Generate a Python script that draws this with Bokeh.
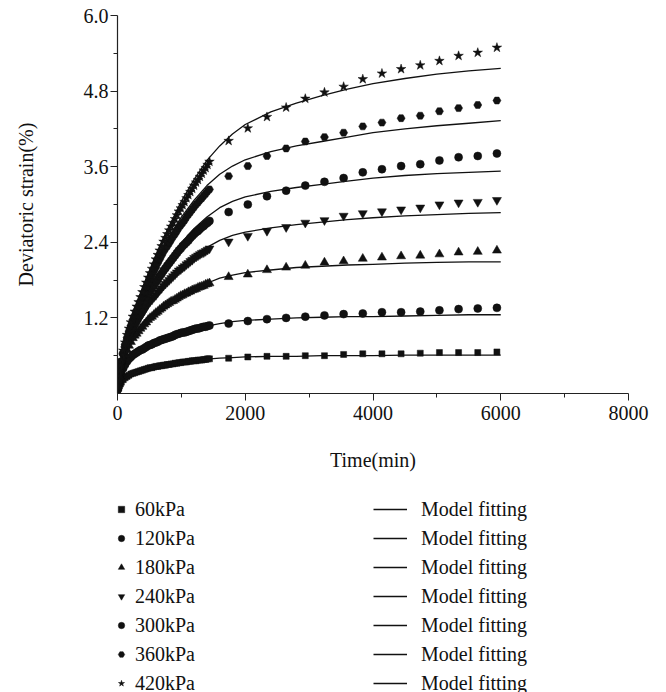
from bokeh.plotting import figure
from bokeh.layouts import column
from bokeh.models import Range1d, FixedTicker, PrintfTickFormatter, Legend, LegendItem
from bokeh.embed import file_html
from bokeh.resources import INLINE

FONT = "Liberation Serif"
INK = "#111111"

# Time axis of the densely logged first day (min)
DENSE_T = [0, 10, 20, 30, 45, 60, 90, 120, 150, 180, 210, 240,
           270, 300, 330, 360, 390, 420, 450, 480, 510, 540, 570, 600,
           630, 660, 690, 720, 750, 780, 810, 840, 870, 900, 930, 960,
           990, 1020, 1050, 1080, 1110, 1140, 1170, 1200, 1230, 1260, 1290, 1320,
           1350, 1380, 1410, 1440]
# Sparse readings after the first day (min)
SPARSE_T = [1740, 2040, 2340, 2640, 2940, 3240, 3540, 3840, 4140, 4440,
            4740, 5040, 5340, 5640, 5940]
# Time points of the fitted model curves (min)
FIT_T = [0, 25, 50, 100, 200, 300, 400, 500, 600, 700, 800, 1000, 1200, 1400,
         1600, 1800, 2000, 2400, 2800, 3200, 3600, 4000, 4500, 5000, 5500, 6000]

LABELS = ["60kPa", "120kPa", "180kPa", "240kPa", "300kPa", "360kPa", "420kPa"]
MARKERS = ["square", "circle", "triangle", "inverted_triangle", "circle", "hex", "star"]
SIZES = [6, 8, 9, 9, 8, 8, 10]

# Measured deviatoric strain (%), first day
D60 = [0.03, 0.07, 0.10, 0.12, 0.15, 0.18, 0.22, 0.25, 0.27, 0.29, 0.31, 0.32,
       0.33, 0.34, 0.35, 0.36, 0.37, 0.38, 0.39, 0.40, 0.41, 0.41, 0.42, 0.43,
       0.43, 0.44, 0.44, 0.45, 0.45, 0.46, 0.46, 0.47, 0.47, 0.48, 0.48, 0.49,
       0.49, 0.50, 0.50, 0.50, 0.51, 0.51, 0.52, 0.52, 0.52, 0.53, 0.53, 0.53,
       0.54, 0.54, 0.55, 0.55]
D120 = [0.06, 0.12, 0.17, 0.22, 0.27, 0.32, 0.40, 0.46, 0.51, 0.55, 0.58, 0.61,
        0.63, 0.65, 0.67, 0.69, 0.70, 0.72, 0.74, 0.76, 0.77, 0.78, 0.80, 0.81,
        0.82, 0.84, 0.85, 0.86, 0.87, 0.88, 0.89, 0.90, 0.91, 0.93, 0.94, 0.95,
        0.96, 0.97, 0.97, 0.98, 0.99, 1.00, 1.01, 1.02, 1.03, 1.03, 1.04, 1.05,
        1.06, 1.06, 1.07, 1.08]
D180 = [0.08, 0.15, 0.22, 0.28, 0.35, 0.41, 0.52, 0.61, 0.69, 0.76, 0.82, 0.88,
        0.92, 0.95, 0.99, 1.03, 1.06, 1.10, 1.13, 1.17, 1.20, 1.22, 1.25, 1.28,
        1.30, 1.33, 1.35, 1.38, 1.40, 1.42, 1.44, 1.46, 1.47, 1.49, 1.51, 1.53,
        1.55, 1.56, 1.58, 1.59, 1.61, 1.62, 1.64, 1.65, 1.66, 1.68, 1.69, 1.70,
        1.71, 1.73, 1.74, 1.75]
D240 = [0.09, 0.17, 0.24, 0.31, 0.39, 0.46, 0.59, 0.70, 0.79, 0.87, 0.94, 1.01,
        1.06, 1.11, 1.17, 1.22, 1.27, 1.32, 1.37, 1.42, 1.46, 1.49, 1.53, 1.56,
        1.60, 1.64, 1.67, 1.71, 1.74, 1.77, 1.80, 1.83, 1.86, 1.89, 1.92, 1.95,
        1.97, 2.00, 2.02, 2.05, 2.07, 2.10, 2.12, 2.15, 2.17, 2.19, 2.21, 2.23,
        2.24, 2.26, 2.28, 2.30]
D300 = [0.10, 0.18, 0.26, 0.33, 0.42, 0.49, 0.63, 0.75, 0.85, 0.95, 1.04, 1.12,
        1.18, 1.24, 1.30, 1.36, 1.41, 1.47, 1.53, 1.59, 1.63, 1.68, 1.72, 1.77,
        1.81, 1.86, 1.90, 1.95, 1.99, 2.03, 2.07, 2.11, 2.15, 2.19, 2.23, 2.27,
        2.30, 2.34, 2.37, 2.40, 2.43, 2.47, 2.50, 2.53, 2.56, 2.58, 2.61, 2.64,
        2.66, 2.69, 2.71, 2.74]
D360 = [0.11, 0.19, 0.27, 0.34, 0.43, 0.51, 0.65, 0.78, 0.89, 0.99, 1.08, 1.17,
        1.24, 1.32, 1.39, 1.47, 1.54, 1.61, 1.69, 1.76, 1.82, 1.88, 1.94, 2.00,
        2.07, 2.13, 2.19, 2.25, 2.30, 2.34, 2.39, 2.44, 2.49, 2.53, 2.58, 2.63,
        2.67, 2.71, 2.75, 2.80, 2.84, 2.88, 2.92, 2.96, 3.00, 3.03, 3.07, 3.10,
        3.14, 3.17, 3.21, 3.24]
D420 = [0.12, 0.20, 0.28, 0.35, 0.45, 0.53, 0.68, 0.81, 0.93, 1.03, 1.13, 1.22,
        1.30, 1.38, 1.45, 1.53, 1.61, 1.69, 1.76, 1.84, 1.91, 1.98, 2.05, 2.13,
        2.20, 2.27, 2.34, 2.41, 2.47, 2.53, 2.59, 2.65, 2.71, 2.77, 2.83, 2.89,
        2.94, 2.99, 3.04, 3.10, 3.15, 3.20, 3.25, 3.30, 3.35, 3.39, 3.44, 3.49,
        3.54, 3.58, 3.63, 3.68]

# Measured deviatoric strain (%), later readings
S60 = [0.56, 0.58, 0.59, 0.59, 0.60, 0.60, 0.62, 0.63, 0.63, 0.63, 0.64, 0.65, 0.65, 0.65, 0.66]
S120 = [1.11, 1.15, 1.18, 1.20, 1.22, 1.24, 1.26, 1.27, 1.29, 1.29, 1.30, 1.32, 1.34, 1.35, 1.36]
S180 = [1.85, 1.89, 1.96, 2.00, 2.03, 2.08, 2.10, 2.14, 2.16, 2.18, 2.19, 2.21, 2.24, 2.25, 2.27]
S240 = [2.41, 2.50, 2.58, 2.64, 2.71, 2.75, 2.82, 2.86, 2.89, 2.92, 2.95, 3.00, 3.03, 3.04, 3.07]
S300 = [2.88, 3.00, 3.13, 3.22, 3.30, 3.36, 3.42, 3.51, 3.56, 3.61, 3.64, 3.70, 3.75, 3.77, 3.81]
S360 = [3.45, 3.61, 3.77, 3.89, 4.00, 4.07, 4.14, 4.24, 4.30, 4.37, 4.41, 4.48, 4.53, 4.58, 4.65]
S420 = [4.01, 4.21, 4.39, 4.54, 4.68, 4.78, 4.87, 4.99, 5.08, 5.15, 5.21, 5.28, 5.36, 5.41, 5.49]

# Model fitting curves (%)
F60 = [0.0, 0.08, 0.13, 0.20, 0.28, 0.33, 0.36, 0.39, 0.42, 0.44, 0.46, 0.49, 0.52,
       0.545, 0.56, 0.57, 0.58, 0.59, 0.59, 0.60, 0.60, 0.60, 0.61, 0.61, 0.61, 0.61]
F120 = [0.0, 0.10, 0.19, 0.34, 0.53, 0.63, 0.70, 0.76, 0.81, 0.85, 0.89, 0.96, 1.02,
        1.07, 1.11, 1.14, 1.16, 1.18, 1.20, 1.21, 1.22, 1.22, 1.23, 1.24, 1.25, 1.25]
F180 = [0.0, 0.13, 0.25, 0.47, 0.76, 0.94, 1.07, 1.17, 1.27, 1.35, 1.42, 1.55, 1.66,
        1.75, 1.83, 1.88, 1.92, 1.96, 2.00, 2.02, 2.04, 2.05, 2.07, 2.08, 2.09, 2.09]
F240 = [0.0, 0.15, 0.29, 0.52, 0.86, 1.09, 1.28, 1.44, 1.57, 1.69, 1.80, 2.00, 2.17,
        2.32, 2.43, 2.51, 2.56, 2.63, 2.68, 2.72, 2.76, 2.79, 2.82, 2.84, 2.86, 2.87]
F300 = [0.0, 0.16, 0.31, 0.55, 0.96, 1.22, 1.44, 1.63, 1.80, 1.96, 2.12, 2.39, 2.62,
        2.80, 2.95, 3.05, 3.12, 3.21, 3.27, 3.32, 3.37, 3.42, 3.46, 3.49, 3.51, 3.53]
F360 = [0.0, 0.17, 0.33, 0.60, 1.00, 1.33, 1.62, 1.88, 2.10, 2.30, 2.48, 2.80, 3.07,
        3.30, 3.48, 3.61, 3.71, 3.84, 3.93, 4.00, 4.07, 4.14, 4.20, 4.25, 4.29, 4.33]
F420 = [0.0, 0.18, 0.34, 0.62, 1.05, 1.39, 1.70, 1.95, 2.20, 2.43, 2.64, 3.05, 3.40,
        3.70, 3.93, 4.12, 4.27, 4.47, 4.61, 4.73, 4.83, 4.92, 5.00, 5.07, 5.12, 5.16]

DENSE = [D60, D120, D180, D240, D300, D360, D420]
SPARSE = [S60, S120, S180, S240, S300, S360, S420]
FITS = [F60, F120, F180, F240, F300, F360, F420]

# ---- main chart -------------------------------------------------------------
p = figure(width=666, height=486,
           x_range=Range1d(0, 8000), y_range=Range1d(0, 6.0),
           output_backend="svg", toolbar_location=None,
           min_border_left=117, min_border_right=38,
           min_border_top=15, min_border_bottom=93)

p.background_fill_color = "white"
p.border_fill_color = "white"
p.outline_line_color = None
p.grid.visible = False

t_all = DENSE_T + SPARSE_T
for mk, sz, d, s, f in zip(MARKERS, SIZES, DENSE, SPARSE, FITS):
    p.scatter(t_all, d + s, marker=mk, size=sz,
              fill_color=INK, line_color=INK, line_width=0.5)
    p.line(FIT_T, f, line_color=INK, line_width=1.3, line_join="round")

for ax in (p.xaxis[0], p.yaxis[0]):
    ax.axis_line_color = "#222222"
    ax.axis_line_width = 1.2
    ax.major_tick_line_color = "#222222"
    ax.minor_tick_line_color = "#222222"
    ax.major_tick_in = 0
    ax.minor_tick_in = 0
    ax.major_tick_out = 7
    ax.minor_tick_out = 4
    ax.major_label_text_font = FONT
    ax.major_label_text_font_size = "20px"
    ax.major_label_text_color = INK
    ax.axis_label_text_font = FONT
    ax.axis_label_text_font_size = "20px"
    ax.axis_label_text_font_style = "normal"
    ax.axis_label_text_color = INK

p.xaxis.ticker = FixedTicker(ticks=[0, 2000, 4000, 6000, 8000],
                             minor_ticks=[1000, 3000, 5000, 7000])
p.yaxis.ticker = FixedTicker(ticks=[1.2, 2.4, 3.6, 4.8, 6.0],
                             minor_ticks=[0.6, 1.8, 3.0, 4.2, 5.4])
p.yaxis.formatter = PrintfTickFormatter(format="%.1f")
p.xaxis.axis_label = "Time(min)"
p.yaxis.axis_label = "Deviatoric strain(%)"
p.xaxis.major_label_standoff = 5
p.yaxis.major_label_standoff = 2
p.xaxis.axis_label_standoff = 26
p.yaxis.axis_label_standoff = 44

# ---- legend panel under the chart -------------------------------------------
key = figure(width=666, height=206, x_range=Range1d(0, 1), y_range=Range1d(0, 1),
             output_backend="svg", toolbar_location=None,
             x_axis_type=None, y_axis_type=None,
             min_border_left=117, min_border_right=38,
             min_border_top=0, min_border_bottom=0)
key.outline_line_color = None
key.grid.visible = False
key.background_fill_color = "white"
key.border_fill_color = "white"

# hidden stand-ins that only supply the legend swatches
marker_items = []
line_items = []
for lab, mk, sz, s, f in zip(LABELS, MARKERS, SIZES, SPARSE, FITS):
    r_m = key.scatter(SPARSE_T[-1:], s[-1:], marker=mk, size=sz, fill_color=INK,
                      line_color=INK, line_width=0.5, visible=False)
    r_l = key.line(FIT_T[-2:], f[-2:], line_color=INK, line_width=1.3, visible=False)
    marker_items.append(LegendItem(label=lab, renderers=[r_m]))
    line_items.append(LegendItem(label="Model fitting", renderers=[r_l]))


def make_legend(items, x, glyph_w, standoff):
    return Legend(items=items, location=(x, -4), orientation="vertical",
                  glyph_width=glyph_w, glyph_height=26, label_height=26,
                  label_standoff=standoff, spacing=3, padding=0, margin=0,
                  border_line_color=None, background_fill_alpha=0,
                  inactive_fill_alpha=0,
                  label_text_font=FONT, label_text_font_size="20px",
                  label_text_color=INK)


key.add_layout(make_legend(marker_items, -4, 16, 6), "center")
key.add_layout(make_legend(line_items, 256, 34, 14), "center")

layout = column(p, key, spacing=0)
open("out.html", "w").write(file_html(layout, INLINE))
